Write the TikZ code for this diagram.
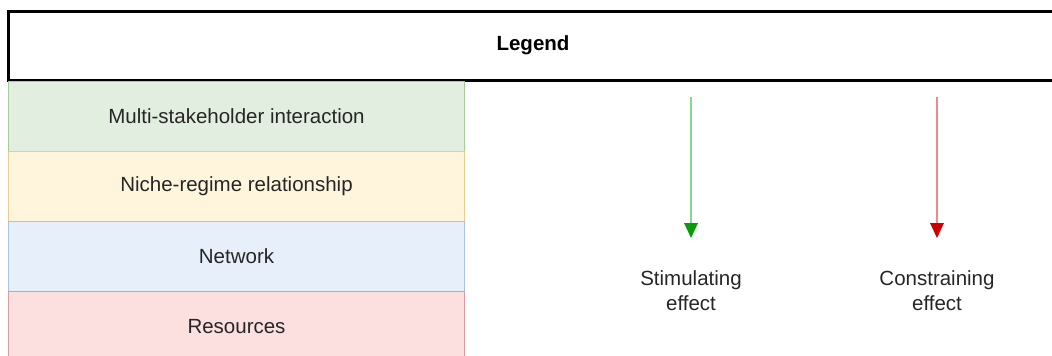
\documentclass[tikz,border=0pt]{standalone}
\usepackage{fontspec}
\setmainfont{Liberation Sans}
\usetikzlibrary{arrows.meta}

\definecolor{rowgreen}{HTML}{E2EEE0}
\definecolor{rowgreenline}{HTML}{A8CA98}
\definecolor{rowyellow}{HTML}{FFF5DC}
\definecolor{rowyellowline}{HTML}{E6CF8E}
\definecolor{rowblue}{HTML}{E7EFFA}
\definecolor{rowblueline}{HTML}{A9C1E4}
\definecolor{rowred}{HTML}{FCDFDF}
\definecolor{rowredline}{HTML}{D79C9C}
\definecolor{stimline}{HTML}{8CD68C}
\definecolor{stimhead}{HTML}{0A9A0A}
\definecolor{consline}{HTML}{EE8A8A}
\definecolor{conshead}{HTML}{CC0000}

\begin{document}
\begin{tikzpicture}[x=1pt,y=-1pt,
    every node/.style={font=\fontsize{20.5}{25}\selectfont, text=black!85},
    legendrow/.style={draw, line width=1pt, minimum width=456pt, minimum height=70pt,
      inner sep=0pt, anchor=north west},
    effect/.style={line width=2.6pt},
    effectlabel/.style={align=center}]
  \useasboundingbox (0,0) rectangle (1052,356);
  % 1 px = 1 pt, y nach unten
  \def\rowx{8}
  \def\rowh{70}

  % ---- Titelzeile ----
  \node[draw=black, line width=3pt, minimum width=1060pt, minimum height=69pt,
    anchor=north west, inner sep=0pt] (title) at (7,10) {};
  \node[font=\fontsize{20.5}{25}\selectfont\bfseries, text=black] (titletext) at (533,45) {Legend};

  % ---- Zeilen links ----
  \node[legendrow, fill=rowgreen, draw=rowgreenline]   (msi)  at (\rowx,81)         {Multi-stakeholder interaction};
  \node[legendrow, fill=rowyellow, draw=rowyellowline] (nrr)  at (\rowx,81+\rowh)   {Niche-regime relationship};
  \node[legendrow, fill=rowblue, draw=rowblueline]     (net)  at (\rowx,81+2*\rowh) {Network};
  \node[legendrow, fill=rowred, draw=rowredline]       (res)  at (\rowx,81+3*\rowh) {Resources};

  % ---- Pfeile rechts ----
  \coordinate (stimtop) at (691,97);
  \coordinate (stimend) at (691,238);
  \coordinate (constop) at (937,97);
  \coordinate (consend) at (937,238);
  \draw[effect, stimline, -{Triangle[width=14pt,length=15pt,line width=0pt,color=stimhead]}] (stimtop) -- (stimend);
  \draw[effect, consline, -{Triangle[width=14pt,length=15pt,line width=0pt,color=conshead]}] (constop) -- (consend);

  \node[effectlabel] (stimlabel) at (691,291) {Stimulating\\effect};
  \node[effectlabel] (conslabel) at (937,291) {Constraining\\effect};
\end{tikzpicture}
\end{document}
